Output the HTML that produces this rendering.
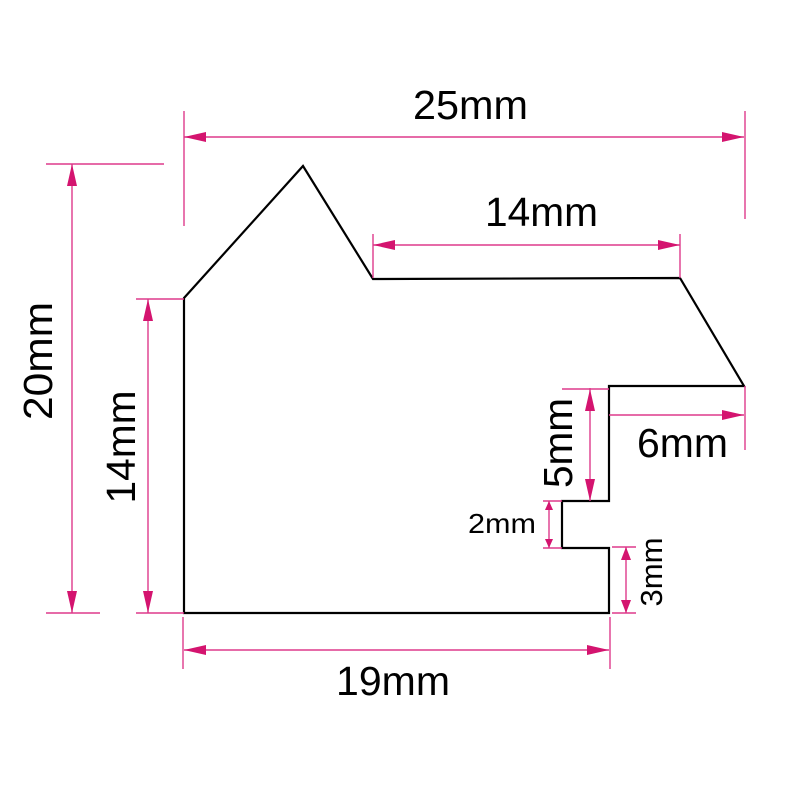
<!DOCTYPE html>
<html><head><meta charset="utf-8"><style>html,body{margin:0;padding:0;background:#fff}svg{display:block}</style></head>
<body>
<svg width="796" height="795" viewBox="0 0 796 795" xmlns="http://www.w3.org/2000/svg" font-family="Liberation Sans, Arial, sans-serif" fill="#000">
<polygon points="184,298 303,166 373,279 680,278 744,386 609,386 609,501 562,501 562,548 609,548 609,613 184,613" fill="none" stroke="#000" stroke-width="2.2" stroke-linejoin="miter"/>
<g stroke="#de3a8c" stroke-width="1.4" fill="none">
<!-- 25mm -->
<line x1="184" y1="137" x2="744" y2="137"/><line x1="184" y1="111" x2="184" y2="226"/><line x1="745" y1="111" x2="745" y2="219"/>
<!-- 14 top -->
<line x1="373" y1="245" x2="680" y2="245"/><line x1="373" y1="234" x2="373" y2="278"/><line x1="680" y1="234" x2="680" y2="278"/>
<!-- 20mm -->
<line x1="72" y1="164" x2="72" y2="613"/><line x1="46" y1="164" x2="164" y2="164"/><line x1="46" y1="613" x2="100" y2="613"/>
<!-- 14 left -->
<line x1="148" y1="299" x2="148" y2="613"/><line x1="136" y1="299" x2="184" y2="299"/><line x1="136" y1="613" x2="184" y2="613"/>
<!-- 6mm -->
<line x1="609" y1="415" x2="744" y2="415"/><line x1="745" y1="386" x2="745" y2="450"/>
<!-- 5mm -->
<line x1="590" y1="388" x2="590" y2="501"/><line x1="562" y1="389" x2="609" y2="389"/>
<!-- 2mm -->
<line x1="549" y1="501" x2="549" y2="548"/><line x1="543" y1="501" x2="562" y2="501"/><line x1="543" y1="548" x2="562" y2="548"/>
<!-- 3mm -->
<line x1="626" y1="547" x2="626" y2="613"/><line x1="612" y1="547" x2="636" y2="547"/><line x1="612" y1="613" x2="636" y2="613"/>
<!-- 19mm -->
<line x1="184" y1="650" x2="609" y2="650"/><line x1="183" y1="617" x2="183" y2="669"/><line x1="610" y1="617" x2="610" y2="669"/>
</g>
<g fill="#d4146f">
<polygon points="184,137 206,132 206,142"/><polygon points="744,137 722,132 722,142"/>
<polygon points="373,245 395,240 395,250"/><polygon points="680,245 658,240 658,250"/>
<polygon points="72,164 67,186 77,186"/><polygon points="72,613 67,591 77,591"/>
<polygon points="148,299 143,321 153,321"/><polygon points="148,613 143,591 153,591"/>
<polygon points="744,415 722,410 722,420"/>
<polygon points="590,389 585,411 595,411"/><polygon points="590,501 585,479 595,479"/>
<polygon points="549,501 545,510 553,510"/><polygon points="549,548 545,539 553,539"/>
<polygon points="626,547 621,560 631,560"/><polygon points="626,613 621,600 631,600"/>
<polygon points="184,650 206,645 206,655"/><polygon points="609,650 587,645 587,655"/>
</g>
<g font-size="41">
<text x="413" y="119" textLength="115" lengthAdjust="spacingAndGlyphs">25mm</text>
<text x="485" y="226" textLength="113" lengthAdjust="spacingAndGlyphs">14mm</text>
<text x="637" y="457" textLength="91" lengthAdjust="spacingAndGlyphs">6mm</text>
<text x="336" y="695" textLength="114" lengthAdjust="spacingAndGlyphs">19mm</text>
<text transform="translate(52,361) rotate(-90)" text-anchor="middle" textLength="118" lengthAdjust="spacingAndGlyphs">20mm</text>
<text transform="translate(135,447) rotate(-90)" text-anchor="middle" textLength="113" lengthAdjust="spacingAndGlyphs">14mm</text>
<text transform="translate(572,443) rotate(-90)" text-anchor="middle" textLength="90" lengthAdjust="spacingAndGlyphs">5mm</text>
</g>
<text x="468" y="533" font-size="28" textLength="68" lengthAdjust="spacingAndGlyphs">2mm</text>
<text transform="translate(662,572) rotate(-90)" text-anchor="middle" font-size="31" textLength="69" lengthAdjust="spacingAndGlyphs">3mm</text>
</svg>
</body></html>
